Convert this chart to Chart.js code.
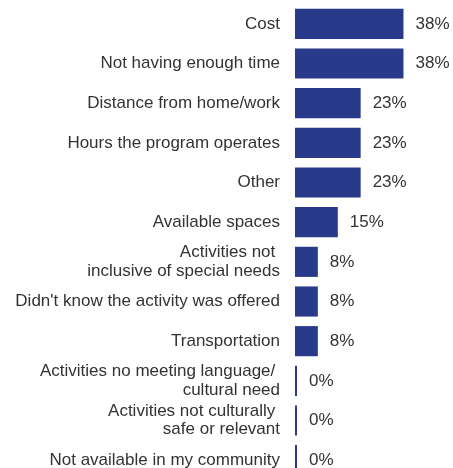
<!DOCTYPE html>
<html>
<head>
<meta charset="utf-8">
<script src="https://cdn.jsdelivr.net/npm/chart.js@4"></script>
<style>
  html, body { margin: 0; padding: 0; background: #fff; }
  #wrap { width: 453px; height: 468px; overflow: hidden; position: relative; }
  #myChart { display: block; }
</style>
</head>
<body>
<div id="wrap">
  <canvas id="myChart" width="453" height="480"></canvas>
</div>
<script>
// barriers and share of respondents (%)
var categories = [
  'Cost',
  'Not having enough time',
  'Distance from home/work',
  'Hours the program operates',
  'Other',
  'Available spaces',
  ['Activities not ', 'inclusive of special needs'],
  "Didn't know the activity was offered",
  'Transportation',
  ['Activities no meeting language/ ', 'cultural need'],
  ['Activities not culturally ', 'safe or relevant'],
  'Not available in my community'
];
var percentValues = [38, 38, 23, 23, 23, 15, 8, 8, 8, 0, 0, 0];

var barColor = '#2a3a8b';
var textColor = '#333333';

// draws the "38%" style labels after each bar
var valueLabels = {
  id: 'valueLabels',
  afterDatasetsDraw: function (chart) {
    var ctx = chart.ctx;
    var meta = chart.getDatasetMeta(0);
    ctx.save();
    ctx.font = '17px "Liberation Sans", Arial, sans-serif';
    ctx.fillStyle = textColor;
    ctx.textAlign = 'left';
    ctx.textBaseline = 'middle';
    for (var i = 0; i < meta.data.length; i++) {
      var bar = meta.data[i];
      ctx.fillText(percentValues[i] + '%', bar.x + 12, bar.y);
    }
    ctx.restore();
  }
};

var ctx = document.getElementById('myChart').getContext('2d');
var myChart = new Chart(ctx, {
  type: 'bar',
  data: {
    labels: categories,
    datasets: [{
      data: percentValues,
      backgroundColor: barColor,
      borderWidth: 0,
      minBarLength: 2,
      barPercentage: 0.76,
      categoryPercentage: 1
    }]
  },
  options: {
    indexAxis: 'y',
    responsive: false,
    animation: false,
    layout: { padding: { top: 4, right: 1, bottom: 0, left: 0 } },
    plugins: {
      legend: { display: false },
      tooltip: { enabled: false }
    },
    scales: {
      x: {
        display: false,
        min: 0,
        max: 55
      },
      y: {
        grid: { display: false, drawTicks: false },
        border: { display: false },
        afterFit: function (scale) {
          scale.width = 295;
          scale.paddingTop = 0;
          scale.paddingBottom = 0;
        },
        ticks: {
          autoSkip: false,
          padding: 15,
          color: textColor,
          font: { family: '"Liberation Sans", Arial, sans-serif', size: 17, lineHeight: 1.08 }
        }
      }
    }
  },
  plugins: [valueLabels]
});
</script>
</body>
</html>
